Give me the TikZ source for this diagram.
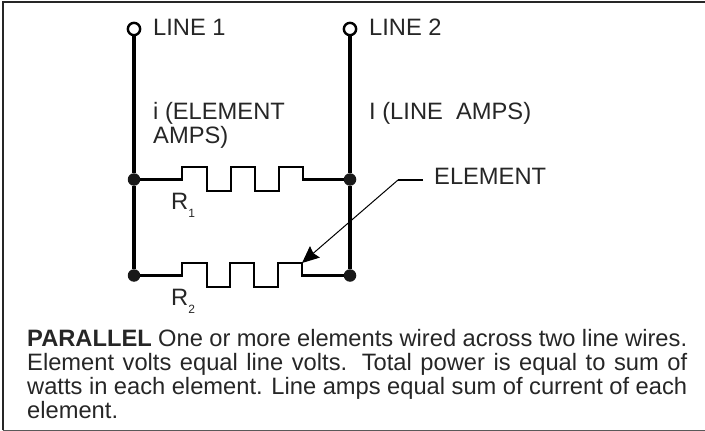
\documentclass[tikz,border=0pt]{standalone}
\usepackage{fontspec}
\setmainfont{Liberation Sans}
\usetikzlibrary{arrows.meta,
                calc,
                positioning}

\newcommand{\subnum}[1]{\raisebox{-8pt}{\fontsize{12}{12}\selectfont #1}}

\begin{document}
\begin{tikzpicture}[
            x=1pt, y=-1pt,
            wire/.style = {line width=3.2pt},
            terminal/.style = {circle, draw, line width=2.4pt, fill=white, inner sep=0pt, minimum size=12.3pt},
            junction/.style = {circle, fill=black!90, inner sep=0pt, minimum size=12.5pt},
            caption/.style = {font=\fontsize{23.7}{24}\selectfont, inner sep=0pt, align=left, text=black!85},
            zigzag/.style = {line width=2.7pt, line join=miter}]

        \useasboundingbox (0,0) rectangle (705,431);

        % frame
        \draw [line width=2pt, black!85] (2.7,430) |- (705,1.7);
        \draw [line width=1pt, black!65] (2.7,430.3) -- (705,430.3);

        \node [terminal] (T-1) at (134,29) {};
        \node [terminal] (T-2) at (350,29) {};
        \node [junction] (J-1) at (134,179.5) {};
        \node [junction] (J-2) at (350,179.5) {};
        \node [junction] (J-3) at (134,275.5) {};
        \node [junction] (J-4) at (350,275.5) {};

        % Lines
        \draw [wire] (T-1) -- (J-1);
        \draw [wire] (J-1) -- (J-3);
        \draw [wire] (T-2) -- (J-2);
        \draw [wire] (J-2) -- (J-4);

        % Elements
        \draw [zigzag] (J-1) -- (182,179.5) |- (207,167) |- (231,191) |- (255,167)
                |- (279,191) |- (303,167) |- (J-2);
        \draw [zigzag] (J-3) -- (182,275.5) |- (207,263) |- (230,287) |- (254,263)
                |- (278,287) |- (302,263) |- (J-4);

        \node [caption, anchor=base west] (L-1) at (153,35) {LINE 1};
        \node [caption, anchor=base west] (L-2) at (369,35) {LINE 2};
        \node [caption, anchor=north west] (A-1) at (153,101.7) {i (ELEMENT\\AMPS)};
        \node [caption, anchor=base west] (A-2) at (369,119) {I (LINE\ \ AMPS)};
        \node [caption, anchor=base west] (E-1) at (434,184) {ELEMENT};
        \node [caption, anchor=base west] (R-1) at (171,209) {R\subnum{1}};
        \node [caption, anchor=base west] (R-2) at (171,305) {R\subnum{2}};

        \coordinate (lead) at (423,180);
        \coordinate (bend) at (398,180);
        \coordinate (tip) at (302,263);
        \draw [line width=2pt] (lead) -- (bend);
        \draw [line width=1pt, -{Stealth[length=17pt, width=15pt, inset=2pt]}] (bend) -- (tip);

        \node [caption, anchor=north west, text width=660pt, align=justify] (D-1) at (27,328.7)
                {\textbf{PARALLEL} One or more elements wired across two line wires.\linebreak
                 Element volts equal line volts. Total power is equal to sum of\linebreak
                 watts in each element. Line amps equal sum of current of each\linebreak
                 element.};
    \end{tikzpicture}
\end{document}
